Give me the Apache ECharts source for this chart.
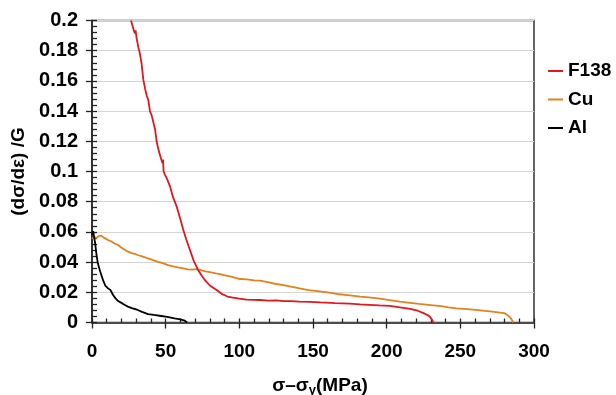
<!DOCTYPE html>
<html><head><meta charset="utf-8">
<script src="https://cdn.jsdelivr.net/npm/echarts@6/dist/echarts.min.js"></script>
<style>html,body{margin:0;padding:0;background:#fff}#c{width:616px;height:395px}</style>
</head><body><div id="c"></div>
<script>
var seriesNames = ['F138', 'Cu', 'Al'];
var seriesColors = ['#e3161c', '#e5801a', '#000000'];
var f138X = [26.5,28.5,29.2,29.6,30.3,31.5,32.1,33.0,33.6,34.8,36.0,37.2,38.2,39.4,40.4,41.6,42.8,43.9,45.5,47.2,47.9,48.2,48.6,49.5,51.0,53.0,55.0,57.5,59.5,62.0,64.0,66.5,69.0,72.0,74.5,76.7,80.0,84.6,88.0,92.0,95.7,100,105,110,114,120,125,130,135,141,148,155,159,165,170,175,182,188,195,202,209,216,221,225,228,229.5,231,231.7];
var f138Y = [0.200,0.193,0.1915,0.1935,0.188,0.182,0.180,0.1795,0.172,0.161,0.155,0.150,0.1474,0.1396,0.1375,0.1363,0.128,0.1197,0.113,0.1075,0.1055,0.108,0.100,0.098,0.095,0.090,0.083,0.0767,0.070,0.0612,0.055,0.048,0.041,0.0348,0.031,0.028,0.0245,0.0215,0.019,0.0172,0.0165,0.0158,0.0152,0.0150,0.0149,0.0145,0.0147,0.0142,0.0141,0.0138,0.0137,0.0133,0.0131,0.0128,0.0127,0.0125,0.0120,0.0117,0.0113,0.0110,0.0100,0.0090,0.0078,0.0062,0.0048,0.0036,0.0015,0];
var cuX = [0,1.5,3,4.5,6.3,8,10.9,13,15,17.7,20,22,24.4,27,29,31,34,36,38,41,44.8,48,51.6,55,58.4,62,65,68,70.8,73.3,77,80,84,87,91,95,100.5,105,110,114,120,125,130,135,141,147,153,160,168,175,182,188,195.5,202,209,216,222,230,237,242,247.5,255,262,270,277,280,282.6,284.5,286];
var cuY = [0.0555,0.0565,0.0560,0.0572,0.0575,0.0562,0.0546,0.0538,0.0525,0.0513,0.0495,0.0484,0.0469,0.0460,0.0455,0.0447,0.0438,0.0432,0.0425,0.0415,0.0402,0.0393,0.0380,0.0372,0.0365,0.0358,0.0352,0.0350,0.0354,0.0348,0.0338,0.0333,0.0325,0.0320,0.0310,0.0302,0.0288,0.0285,0.0279,0.0277,0.0265,0.0255,0.0247,0.0238,0.0226,0.0215,0.0208,0.0200,0.0187,0.0180,0.0172,0.0166,0.0158,0.0148,0.0138,0.0130,0.0123,0.0115,0.0108,0.0100,0.0094,0.0088,0.0082,0.0073,0.0065,0.0062,0.0045,0.0025,0];
var alX = [0,0.8,1.4,2.2,2.9,4,5.5,7.5,9,10.9,12.5,14.3,16,17.7,20,22,24.4,27,31,34,38,42,47,51,56,60,63,64.5];
var alY = [0.058,0.0605,0.060,0.052,0.046,0.039,0.034,0.028,0.0245,0.0226,0.0215,0.0182,0.016,0.0142,0.0130,0.0118,0.0105,0.0095,0.0083,0.0070,0.0056,0.0050,0.0043,0.0037,0.0028,0.0021,0.0012,0];
var xTicks = [0, 50, 100, 150, 200, 250, 300];
var yTicks = [0, 0.02, 0.04, 0.06, 0.08, 0.1, 0.12, 0.14, 0.16, 0.18, 0.2];

function pairs(xs, ys){ return xs.map(function(x,i){ return [x, ys[i]]; }); }
var FONT = '"Liberation Sans", Arial, sans-serif';
var chart = echarts.init(document.getElementById('c'), null, {renderer:'canvas'});
var dark = '#222';
var option = {
  animation: false,
  backgroundColor: '#fff',
  grid: {left: 92, right: 82, top: 20.5, bottom: 72.5, show: true, borderColor: '#333', borderWidth: 1.5, containLabel: false, outerBoundsMode: 'none'},
  legend: {
    orient: 'vertical', left: 548, top: 61, padding: 0, itemWidth: 15, itemHeight: 2, itemGap: 8.5, icon: 'rect',
    data: seriesNames,
    textStyle: {fontFamily: FONT, fontWeight: 'bold', fontSize: 19, color: '#000', lineHeight: 20}
  },
  xAxis: [{
    type: 'value', min: xTicks[0], max: xTicks[xTicks.length-1], interval: 50,
    axisLine: {show: true, lineStyle: {color: dark, width: 1.5}},
    axisTick: {show: true, inside: true, length: 4, lineStyle: {color: dark, width: 1.3}},
    minorTick: {show: true, splitNumber: 5, length: 4, lineStyle: {color: dark, width: 1.3}},
    splitLine: {show: false},
    axisLabel: {fontFamily: FONT, fontWeight: 'bold', fontSize: 19, color: '#000', margin: 20},
    name: '{a|σ–σ}{b|y}{a|(MPa)}', nameLocation: 'middle', nameGap: 53,
    nameTextStyle: {padding: [0,0,0,14], rich: {
      a: {fontFamily: FONT, fontWeight: 'bold', fontSize: 19, color: '#000'},
      b: {fontFamily: FONT, fontWeight: 'bold', fontSize: 13, color: '#000', padding: [8,0,0,0]}
    }}
  },{
    type: 'value', min: xTicks[0], max: xTicks[xTicks.length-1], interval: 50, position: 'bottom',
    axisLine: {show: false}, axisTick: {show: true, inside: false, length: 6, lineStyle: {color: dark, width: 1.3}},
    axisLabel: {show: false}, splitLine: {show: false}
  }],
  yAxis: [{
    type: 'value', min: yTicks[0], max: yTicks[yTicks.length-1], interval: 0.02,
    axisLine: {show: true, lineStyle: {color: dark, width: 1.5}},
    axisTick: {show: true, inside: true, length: 5, lineStyle: {color: dark, width: 1.3}},
    minorTick: {show: true, splitNumber: 5, length: 5, lineStyle: {color: dark, width: 1.3}},
    splitLine: {show: true, lineStyle: {color: '#d4d4d4', width: 1}},
    axisLabel: {fontFamily: FONT, fontWeight: 'bold', fontSize: 20, color: '#000', margin: 14,
      formatter: function(v){ return String(+v.toFixed(2)); }},
    name: '(dσ/dε) /G', nameLocation: 'middle', nameGap: 64,
    nameTextStyle: {fontFamily: FONT, fontWeight: 'bold', fontSize: 19, color: '#000'}
  },{
    type: 'value', min: yTicks[0], max: yTicks[yTicks.length-1], interval: 0.02, position: 'left',
    axisLine: {show: false}, axisTick: {show: true, inside: false, length: 6, lineStyle: {color: dark, width: 1.3}},
    axisLabel: {show: false}, splitLine: {show: false}
  }],
  series: [
    {name: seriesNames[0], type: 'line', data: pairs(f138X, f138Y), showSymbol: false, symbol: 'none', lineStyle: {color: seriesColors[0], width: 1.8}, itemStyle: {color: seriesColors[0]}, z: 4},
    {name: seriesNames[1], type: 'line', data: pairs(cuX, cuY), showSymbol: false, symbol: 'none', lineStyle: {color: seriesColors[1], width: 1.8}, itemStyle: {color: seriesColors[1]}, z: 3},
    {name: seriesNames[2], type: 'line', data: pairs(alX, alY), showSymbol: false, symbol: 'none', lineStyle: {color: seriesColors[2], width: 1.8}, itemStyle: {color: seriesColors[2]}, z: 5}
  ]
};
chart.setOption(option);
</script></body></html>
